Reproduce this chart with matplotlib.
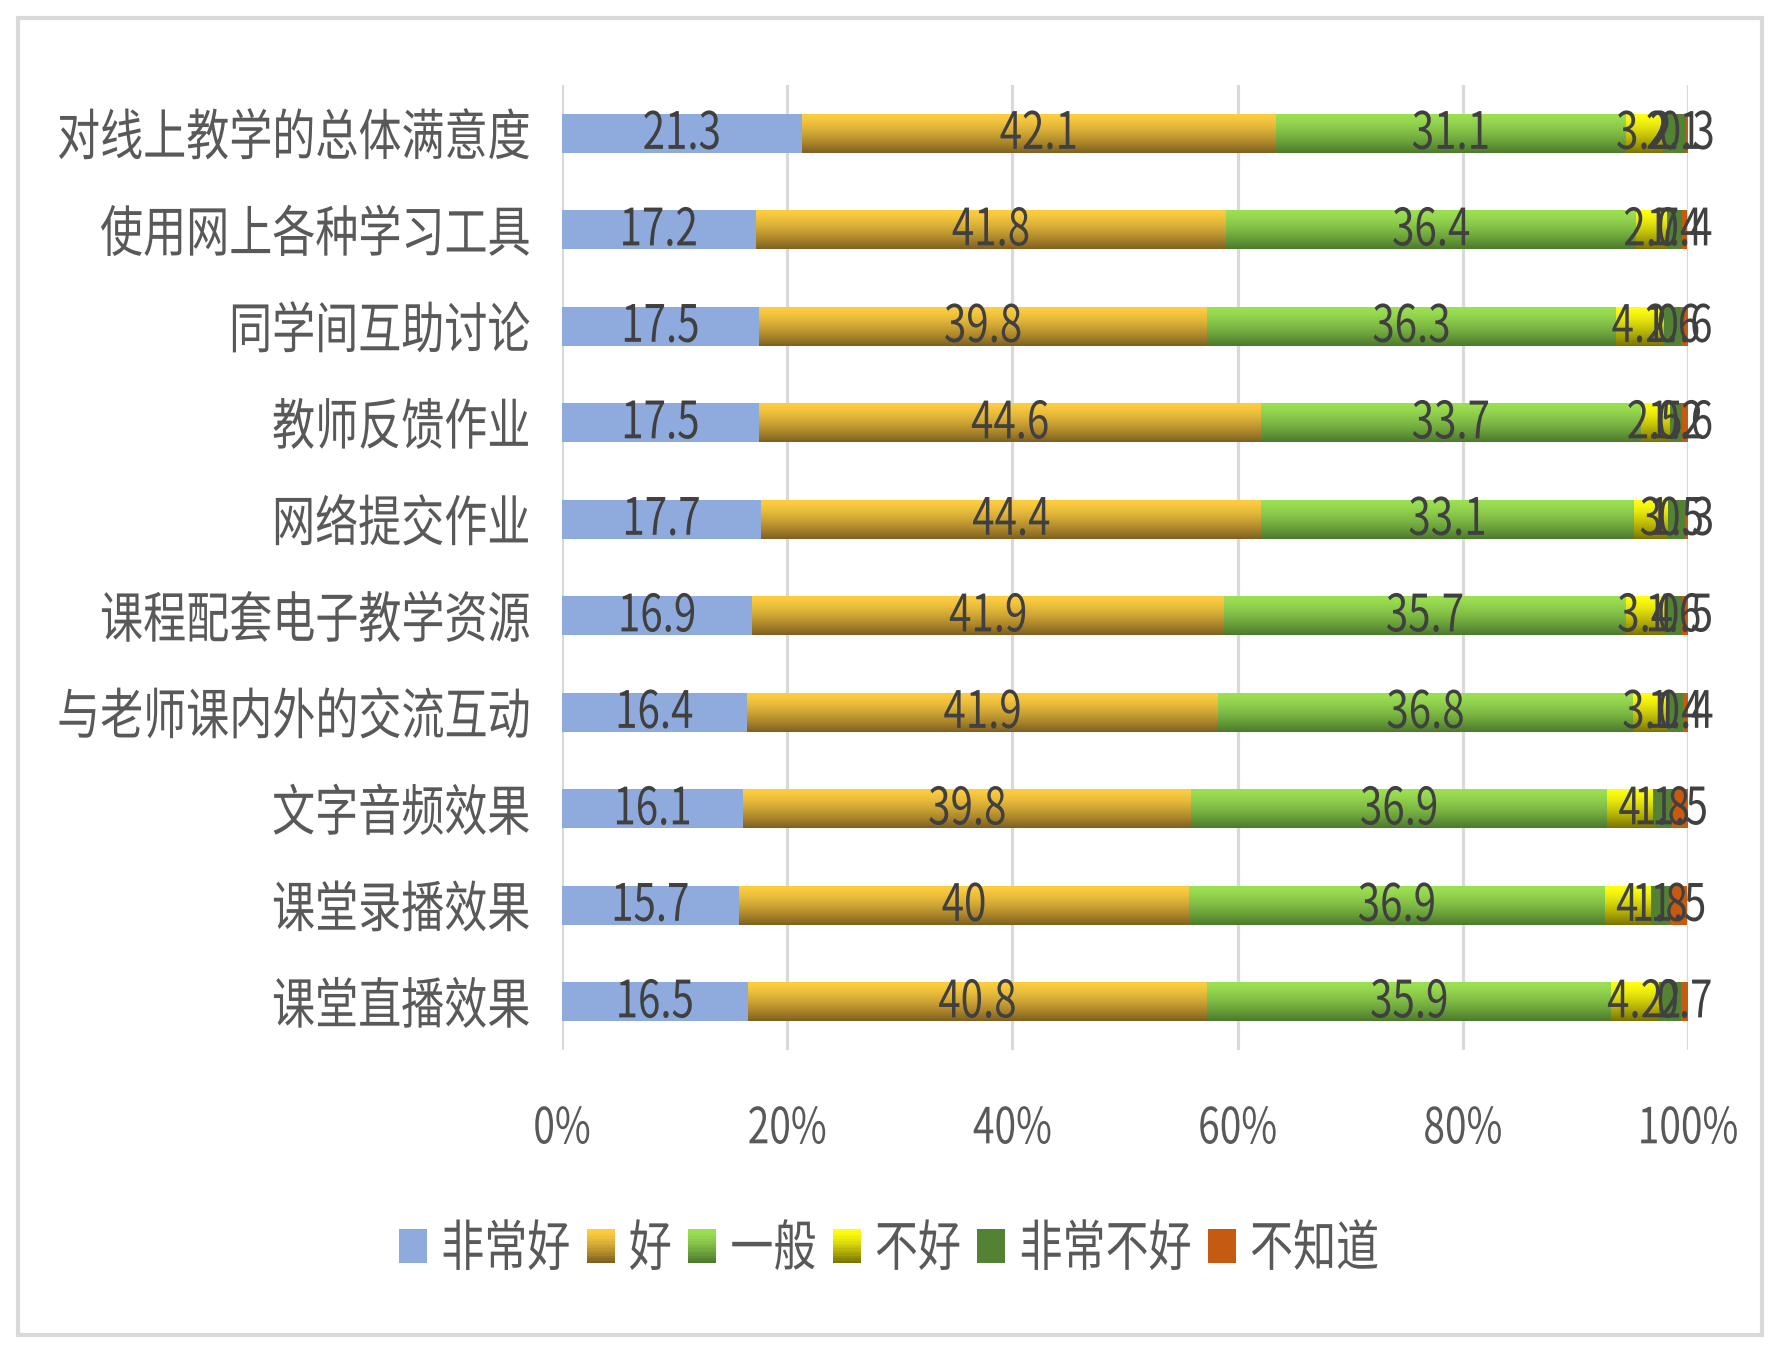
import numpy as np
import matplotlib
matplotlib.use("Agg")
import matplotlib.pyplot as plt
from matplotlib.patches import Patch, Rectangle
from matplotlib.colors import to_rgb
from matplotlib.patheffects import AbstractPathEffect
from matplotlib.transforms import Affine2D
from matplotlib.legend_handler import HandlerBase

categories = ["对线上教学的总体满意度", "使用网上各种学习工具", "同学间互助讨论", "教师反馈作业",
              "网络提交作业", "课程配套电子教学资源", "与老师课内外的交流互动", "文字音频效果",
              "课堂录播效果", "课堂直播效果"]
series_names = ["非常好", "好", "一般", "不好", "非常不好", "不知道"]
very_good = [21.3, 17.2, 17.5, 17.5, 17.7, 16.9, 16.4, 16.1, 15.7, 16.5]
good      = [42.1, 41.8, 39.8, 44.6, 44.4, 41.9, 41.9, 39.8, 40.0, 40.8]
average   = [31.1, 36.4, 36.3, 33.7, 33.1, 35.7, 36.8, 36.9, 36.9, 35.9]
bad       = [3.2, 2.7, 4.2, 2.5, 3.0, 3.4, 3.1, 4.0, 4.0, 4.2]
very_bad  = [2.1, 1.4, 1.6, 1.2, 1.5, 1.6, 1.4, 1.8, 1.8, 2.0]
unknown   = [0.3, 0.4, 0.6, 0.6, 0.3, 0.5, 0.4, 1.5, 1.5, 0.7]
xticks = [0, 20, 40, 60, 80, 100]
xtick_labels = ["0%", "20%", "40%", "60%", "80%", "100%"]

series = [very_good, good, average, bad, very_bad, unknown]
# (solid/top colour, bottom colour or None)
colors = [("#8FAADC", None), ("#FDCD40", "#7F6020"), ("#9CE052", "#4C7A2C"),
          ("#FFFF10", "#7A7400"), ("#548235", None), ("#C55A11", None)]

plt.rcParams['font.family'] = ["Noto Sans CJK SC", "DejaVu Sans"]


class VStretch(AbstractPathEffect):
    """Stretch text glyphs vertically about their ink centre."""
    def __init__(self, sy):
        super().__init__()
        self.sy = sy

    def draw_path(self, renderer, gc, tpath, affine, rgbFace=None):
        ext = tpath.get_extents()
        yc = (ext.y0 + ext.y1) / 2
        t = Affine2D().translate(0, -yc).scale(1, self.sy).translate(0, yc) + affine
        renderer.draw_path(gc, tpath, t, rgbFace)


STRETCH = [VStretch(1.28)]


def gradient(c_top, c_bot, n):
    t = np.linspace(0, 1, n) ** 1.4
    top = np.array(to_rgb(c_top)); bot = np.array(to_rgb(c_bot))
    return top[None, :] * (1 - t[:, None]) + bot[None, :] * t[:, None]


class GradHandler(HandlerBase):
    def __init__(self, c_top, c_bot):
        super().__init__()
        self.c_top, self.c_bot = c_top, c_bot

    def create_artists(self, legend, orig_handle, xdescent, ydescent, width, height,
                       fontsize, trans):
        if self.c_bot is None:
            return [Rectangle((-xdescent, -ydescent), width, height, facecolor=self.c_top,
                              edgecolor="none", transform=trans)]
        n = 14
        cols = gradient(self.c_top, self.c_bot, n)
        arts = []
        for i in range(n):
            y = -ydescent + height - (i + 1) * height / n
            arts.append(Rectangle((-xdescent, y), width, height / n * 1.05, facecolor=cols[i],
                                  edgecolor="none", transform=trans))
        return arts


W, H = 1777, 1345
fig = plt.figure(figsize=(W / 100, H / 100), dpi=100)
fig.patch.set_facecolor("white")
ax = fig.add_axes([562 / W, 1 - 1050 / H, (1688 - 562) / W, (1050 - 85) / H])

n = len(categories)
ypos = np.arange(n)[::-1]
bar_h = 0.4
left = np.zeros(n)
for vals, name, (c_top, c_bot) in zip(series, series_names, colors):
    vals = np.array(vals, dtype=float)
    cont = ax.barh(ypos, vals, left=left, height=bar_h, color=c_top, label=name,
                   zorder=3, linewidth=0)
    if c_bot is not None:
        grad = gradient(c_top, c_bot, 64)[:, None, :]
        for rect in cont.patches:
            x0 = rect.get_x(); w = rect.get_width(); y0 = rect.get_y(); h = rect.get_height()
            im = ax.imshow(grad, extent=(x0, x0 + w, y0, y0 + h), origin="upper",
                           aspect="auto", zorder=3.1, interpolation="bilinear")
            im.set_clip_path(rect)
    labs = ax.bar_label(cont, labels=[f"{v:g}" for v in vals], label_type="center",
                        fontsize=29, color="#404040", zorder=5)
    for t in labs:
        t.set_path_effects(STRETCH)
    left += vals

ax.set_xlim(0, 100)
ax.set_ylim(-0.5, n - 0.5)
ax.set_aspect("auto")
ax.set_yticks(ypos)
ax.set_yticklabels(categories, fontsize=31, color="#595959")
ax.set_xticks(xticks)
ax.set_xticklabels(xtick_labels, fontsize=28, color="#595959")
ax.tick_params(axis="both", length=0)
ax.tick_params(axis="y", pad=23)
ax.tick_params(axis="x", pad=42)
for tk in ax.xaxis.get_major_ticks() + ax.yaxis.get_major_ticks():
    tk.label1.set_path_effects(STRETCH)
ax.grid(axis="x", color="#D9D9D9", linewidth=2.3, zorder=0)
ax.set_axisbelow(True)
for s in ax.spines.values():
    s.set_visible(False)

handles = [Patch(facecolor=c[0], edgecolor="none") for c in colors]
handler_map = {h: GradHandler(c[0], c[1]) for h, c in zip(handles, colors)}
leg = fig.legend(handles, series_names, loc="center", bbox_to_anchor=(889 / W, 1 - 1249 / H),
                 ncol=6, frameon=False, fontsize=31, handlelength=0.65, handleheight=0.85,
                 handletextpad=0.33, columnspacing=0.38, borderpad=0, handler_map=handler_map)
for txt in leg.get_texts():
    txt.set_color("#595959")
    txt.set_path_effects(STRETCH)

fig.add_artist(Rectangle((18 / W, 1 - 1335 / H), (1762 - 18) / W, (1335 - 18) / H,
                         transform=fig.transFigure, fill=False, edgecolor="#D9D9D9",
                         linewidth=3))

fig.savefig("out.png", dpi=100, facecolor="white")
